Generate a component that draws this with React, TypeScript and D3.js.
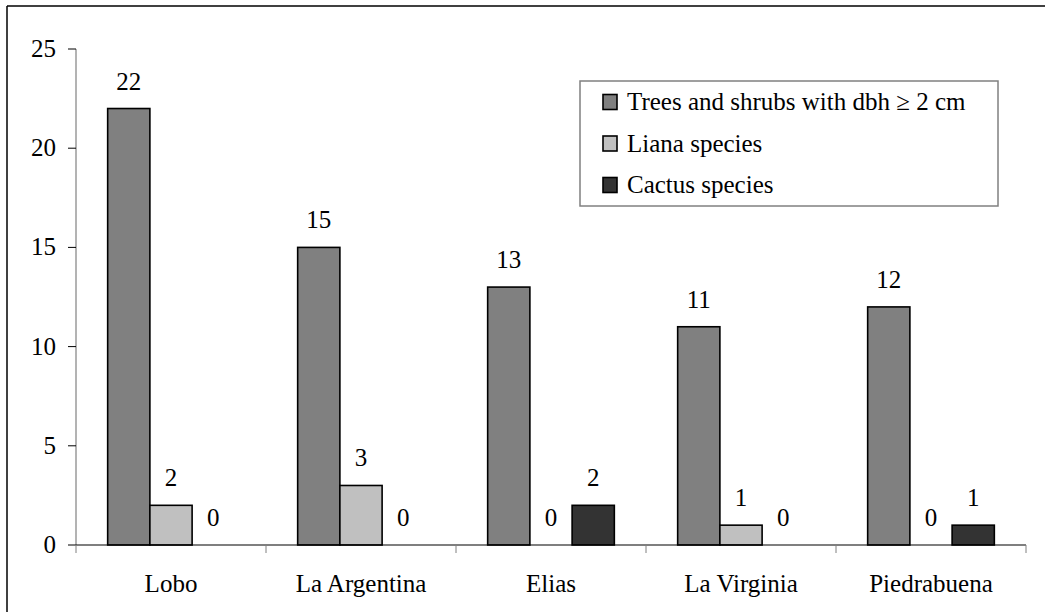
import React from "react";
import * as d3 from "d3";

const categories = ["Lobo", "La Argentina", "Elias", "La Virginia", "Piedrabuena"];
const seriesNames = ["Trees and shrubs with dbh \u2265 2 cm", "Liana species", "Cactus species"];
const trees = [22, 15, 13, 11, 12];
const lianas = [2, 3, 0, 1, 0];
const cactus = [0, 0, 2, 0, 1];
const yTicks = [0, 5, 10, 15, 20, 25];
const colors = ["#808080", "#C0C0C0", "#333333"];

const W = 1045;
const H = 612;
const FS = 25;
const FF = '"Times New Roman", "Liberation Serif", Tinos, "Nimbus Roman", FreeSerif, Times';

const css = `
.chart text { font-family: "Times New Roman", "Liberation Serif", Tinos, "Nimbus Roman", FreeSerif, Times; font-size: ${FS}px; fill: #000; }
`;

export default function App() {
  const series = [trees, lianas, cactus];
  const x0 = d3.scaleBand<string>().domain(categories).range([76, 1026]).paddingInner(0).paddingOuter(0);
  const cw = x0.bandwidth();
  const barW = cw / 4.5;
  const groupOffset = (cw - barW * 3) / 2;
  const y = d3.scaleLinear().domain([0, 25]).range([545, 49]);

  return (
    <div style={{ position: "absolute", left: 0, top: 0, fontFamily: FF }}>
      <style>{css}</style>
      <svg width={W} height={H} className="chart" fontFamily={FF}>
        <rect x={0} y={0} width={W} height={H} fill="#fff" />
        {/* outer frame (top and left visible) */}
        <line x1={7} y1={6} x2={W + 5} y2={6} stroke="#000" strokeWidth={1.5} />
        <line x1={7} y1={6} x2={7} y2={H + 5} stroke="#000" strokeWidth={1.5} />

        {/* y axis */}
        <line x1={76} y1={y(25)} x2={76} y2={y(0)} stroke="#808080" strokeWidth={1.2} />
        {yTicks.map((t) => (
          <g key={t}>
            <line x1={68} x2={76} y1={y(t)} y2={y(t)} stroke="#000" strokeWidth={1} />
            <text x={56} y={y(t) + 8} textAnchor="end" fontFamily={FF} fontSize={FS}>
              {t}
            </text>
          </g>
        ))}

        {/* bars */}
        {categories.map((c, ci) => (
          <g key={c}>
            {series.map((vals, si) => {
              const v = vals[ci];
              const bx = (x0(c) as number) + groupOffset + si * barW;
              return (
                <g key={si}>
                  {v > 0 && (
                    <rect
                      x={bx}
                      y={y(v)}
                      width={barW}
                      height={y(0) - y(v)}
                      fill={colors[si]}
                      stroke="#000"
                      strokeWidth={1.6}
                    />
                  )}
                  <text x={bx + barW / 2} y={y(v) - 19} textAnchor="middle" fontFamily={FF} fontSize={FS}>
                    {v}
                  </text>
                </g>
              );
            })}
          </g>
        ))}

        {/* x axis */}
        <line x1={76} x2={1026} y1={y(0)} y2={y(0)} stroke="#000" strokeWidth={1.2} />
        {categories.concat(["end"]).map((c, i) => {
          const tx = 76 + i * cw;
          return <line key={"t" + i} x1={tx} x2={tx} y1={y(0)} y2={y(0) + 8} stroke="#808080" strokeWidth={1} />;
        })}
        {categories.map((c) => (
          <text key={c} x={(x0(c) as number) + cw / 2} y={592} textAnchor="middle" fontFamily={FF} fontSize={FS}>
            {c}
          </text>
        ))}

        {/* legend */}
        <rect x={580} y={81} width={418} height={125} fill="#fff" stroke="#808080" strokeWidth={1.5} />
        {seriesNames.map((n, i) => {
          const cy = 102 + i * 41.5;
          return (
            <g key={n}>
              <rect x={603} y={cy - 7.5} width={14} height={15} fill={colors[i]} stroke="#000" strokeWidth={1.6} />
              <text x={627} y={cy + 8} fontFamily={FF} fontSize={FS}>
                {n}
              </text>
            </g>
          );
        })}
      </svg>
    </div>
  );
}
